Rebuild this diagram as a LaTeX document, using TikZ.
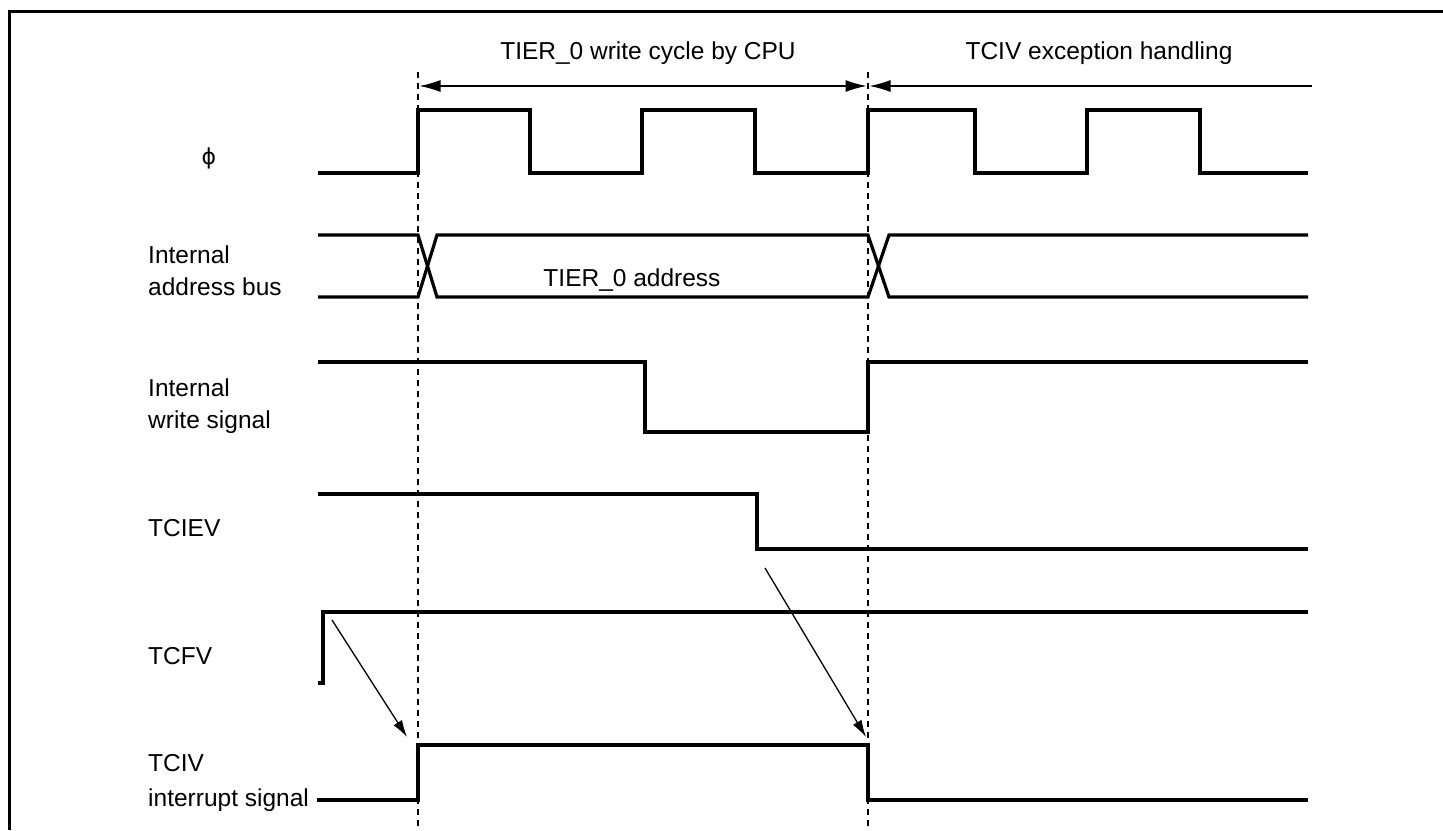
\documentclass[tikz,border=0pt]{standalone}
\usepackage{fontspec}
\setmainfont{Liberation Sans}
\newfontfamily\symfont{DejaVu Sans}
\usetikzlibrary{arrows.meta}
\begin{document}
\begin{tikzpicture}[x=1pt,y=-1pt,
  sig/.style={line width=3.2pt, line join=miter},
  guide/.style={line width=1.2pt, dash pattern=on 6pt off 5pt},
  dimtip/.tip={Latex[length=21pt,width=12pt]},
  causetip/.tip={Latex[length=17pt,width=10pt]},
  dimline/.style={line width=1.3pt},
  cause/.style={line width=1.3pt, -causetip},
  lbl/.style={anchor=west, align=left, inner sep=0pt, font=\fontsize{24.5}{32}\selectfont},
  ttl/.style={inner sep=0pt, font=\fontsize{24.5}{29}\selectfont}]
\useasboundingbox (0,0) rectangle (1443,830);
\fill[white] (0,0) rectangle (1443,830);
% frame
\draw[line width=3.5pt] (9.5,830) -- (9.5,11.5) -- (1443,11.5);

% guides
\coordinate (g1t) at (418,72); \coordinate (g1b) at (418,830);
\coordinate (g2t) at (868,72); \coordinate (g2b) at (868,830);
\draw[guide] (g1t) -- (g1b);
\draw[guide] (g2t) -- (g2b);

% titles and dimension arrows
\node[ttl] (t1) at (648,53) {TIER\_0 write cycle by CPU};
\node[ttl] (t2) at (1099,53) {TCIV exception handling};
\coordinate (a1l) at (419.5,86); \coordinate (a1r) at (866.5,86);
\coordinate (a2l) at (869.5,86); \coordinate (a2r) at (1312,86);
\draw[dimline, dimtip-dimtip] (a1l) -- (a1r);
\draw[dimline, dimtip-] (a2l) -- (a2r);

% labels
\node[inner sep=0pt, font=\symfont\fontsize{22}{24}\selectfont] (lphi) at (209,158) {ϕ};
\node[lbl] (laddr) at (148,270.5) {Internal\\address bus};
\node[lbl] (lwr) at (148,406) {Internal\\write signal};
\node[lbl] (ltciev) at (148,528) {TCIEV};
\node[lbl] (ltcfv) at (148,656) {TCFV};
\node[lbl, font=\fontsize{24.5}{35}\selectfont] (ltciv) at (148,782.5) {TCIV\\interrupt signal};

% clock
\draw[sig] (318,173) -- (418,173) -- (418,110) -- (530,110) -- (530,173) -- (642,173) -- (642,110) -- (755,110) -- (755,173) -- (868,173) -- (868,110) -- (975,110) -- (975,173) -- (1087,173) -- (1087,110) -- (1200,110) -- (1200,173) -- (1308,173);

% address bus
\draw[sig] (318,235) -- (418,235) -- (437,297) -- (868,297) -- (889,235) -- (1308,235);
\draw[sig] (318,297) -- (418,297) -- (437,235) -- (868,235) -- (889,297) -- (1308,297);
\node[ttl] (addr) at (632,280) {TIER\_0 address};

% write signal
\draw[sig] (318,362) -- (645,362) -- (645,432) -- (868,432) -- (868,362) -- (1308,362);

% TCIEV
\draw[sig] (318,494) -- (757,494) -- (757,549) -- (1308,549);

% TCFV
\draw[sig] (318,683) -- (323,683) -- (323,612) -- (1308,612);

% TCIV
\draw[sig] (317,800) -- (418,800) -- (418,745) -- (868,745) -- (868,800) -- (1308,800);

% cause arrows
\coordinate (c1s) at (332,620); \coordinate (c1e) at (407,737);
\coordinate (c2s) at (765,568); \coordinate (c2e) at (866,737);
\draw[cause] (c1s) -- (c1e);
\draw[cause] (c2s) -- (c2e);
\end{tikzpicture}
\end{document}
